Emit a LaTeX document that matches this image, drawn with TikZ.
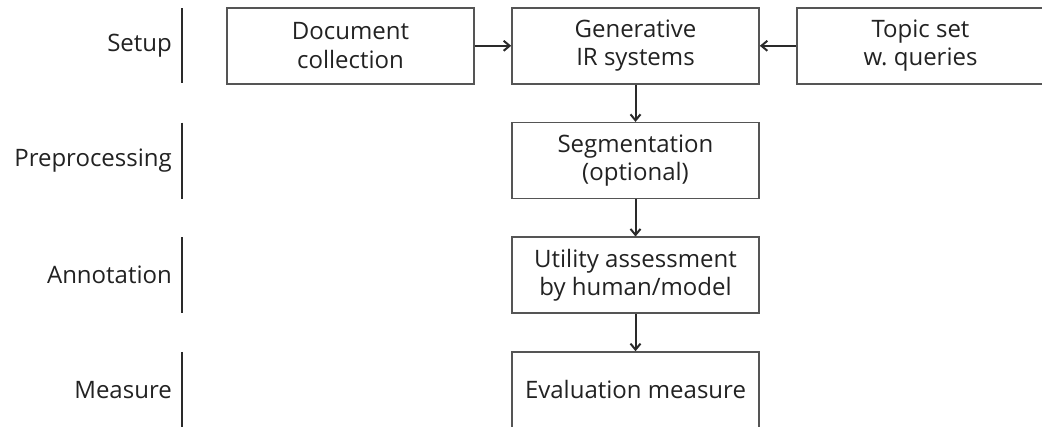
\documentclass[tikz,border=0pt]{standalone}
\usepackage{fontspec}
\setmainfont{Open Sans}
\usetikzlibrary{arrows.meta}
\definecolor{boxline}{HTML}{555555}
\definecolor{arrowline}{HTML}{2A2A2A}
\definecolor{txt}{HTML}{222222}
\tikzset{
  stagebox/.style={draw=boxline, line width=1.6pt, minimum width=247pt, minimum height=76pt,
    inner sep=0pt, align=center, text=txt, font=\fontsize{24}{28.5}\selectfont},
  stagelabel/.style={anchor=east, inner sep=0pt, text=txt, font=\fontsize{24}{28.5}\selectfont},
  flow/.style={draw=arrowline, line width=2pt, -{Straight Barb[length=6pt,width=10pt]}},
  bar/.style={draw=arrowline, line width=2pt}
}
\begin{document}
\begin{tikzpicture}[x=1pt,y=-1pt]
\useasboundingbox (0,0) rectangle (1042,427);
\clip (0,0) rectangle (1042,427);
% rows
\node[stagebox] (doc) at (350.5,45.8) {Document\\collection};
\node[stagebox] (gen) at (635.5,45.8) {Generative\\IR systems};
\node[stagebox] (topic) at (920.5,45.8) {Topic set\\w.\ queries};
\node[stagebox] (seg) at (635.5,160.7) {Segmentation\\(optional)};
\node[stagebox] (util) at (635.5,275.3) {Utility assessment\\by human/model};
\node[stagebox] (eval) at (635.5,390) {Evaluation measure};
% stage labels
\node[stagelabel] (lsetup) at (172,45.8) {Setup};
\node[stagelabel] (lpre) at (172,160.7) {Preprocessing};
\node[stagelabel] (lann) at (172,275.3) {Annotation};
\node[stagelabel] (lmeas) at (172,390) {Measure};
% bars
\draw[bar] (182,8.3) -- (182,83.3);
\draw[bar] (182,122.7) -- (182,198.7);
\draw[bar] (182,237.3) -- (182,313.3);
\draw[bar] (182,352) -- (182,428);
% connectors
\draw[flow] (doc.east) -- (gen.west);
\draw[flow] (topic.west) -- (gen.east);
\draw[flow] (gen.south) -- (seg.north);
\draw[flow] (seg.south) -- (util.north);
\draw[flow] (util.south) -- (eval.north);
\end{tikzpicture}
\end{document}
